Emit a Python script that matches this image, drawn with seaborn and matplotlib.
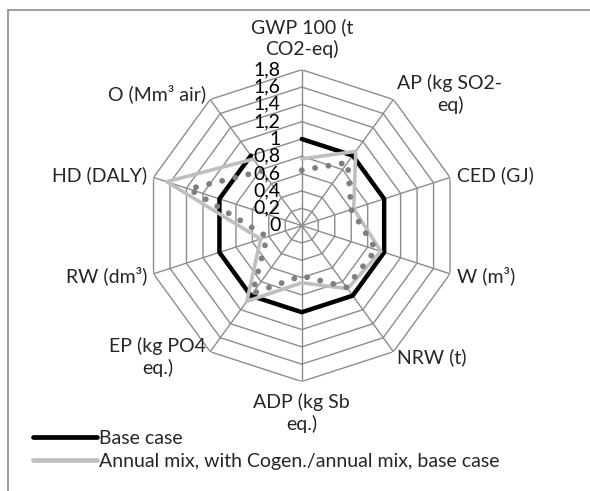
import numpy as np
import pandas as pd
import matplotlib
matplotlib.use("Agg")
import matplotlib.pyplot as plt
import matplotlib.transforms as mtransforms
from matplotlib.lines import Line2D
import seaborn as sns

# --- datos ---
CATEGORIES = ["GWP 100 (t\nCO2-eq)", "AP (kg SO2-\neq)", "CED (GJ)", "W (m³)", "NRW (t)",
              "ADP (kg Sb\neq.)", "EP (kg PO4\neq.)", "RW (dm³)", "HD (DALY)", "O (Mm³ air)"]
BASE_CASE = [1, 1, 1, 1, 1, 1, 1, 1, 1, 1]
ANNUAL_MIX = [0.77, 1.06, 0.63, 0.96, 0.90, 0.66, 1.08, 0.50, 1.64, 0.95]
COGEN_MIX = [0.64, 0.90, 0.60, 0.90, 0.88, 0.58, 0.97, 0.42, 1.37, 0.78]
R_TICKS = [0, 0.2, 0.4, 0.6, 0.8, 1.0, 1.2, 1.4, 1.6, 1.8]
R_LABELS = ["0", "0,2", "0,4", "0,6", "0,8", "1", "1,2", "1,4", "1,6", "1,8"]
SERIES_NAMES = ["Base case", "Annual mix, with Cogen./annual mix, base case",
                "Annual mix, with Cogen./annual mix, cogen"]

sns.set_theme(style="white")
plt.rcParams['font.family'] = ['Lato', 'DejaVu Sans']
FS = 14

n = len(CATEGORIES)
theta = np.linspace(0, 2 * np.pi, n, endpoint=False)
theta_c = np.append(theta, theta[0])

fig = plt.figure(figsize=(5.9, 4.91), dpi=100)
ax = fig.add_axes([0.247, 0.223, 0.529, 0.635], projection='polar')
ax.set_theta_offset(np.pi / 2)
ax.set_theta_direction(-1)
ax.set_ylim(0, 1.8)
ax.grid(False)
ax.spines['polar'].set_visible(False)
ax.set_xticks([])
ax.set_yticks([])
ax.patch.set_alpha(0)

# rejilla poligonal estilo Excel
grid_col = '#8c8c8c'
for r in R_TICKS[1:]:
    ax.plot(theta_c, [r] * (n + 1), color=grid_col, lw=1.0, zorder=1)
for t in theta:
    ax.plot([t, t], [0, 1.8], color=grid_col, lw=1.0, zorder=1)

# series
df = pd.DataFrame({
    'theta': np.tile(theta_c, 3),
    'value': BASE_CASE + BASE_CASE[:1] + ANNUAL_MIX + ANNUAL_MIX[:1] + COGEN_MIX + COGEN_MIX[:1],
    'serie': np.repeat(SERIES_NAMES, n + 1),
})
sub = df[df.serie == SERIES_NAMES[0]]
sns.lineplot(data=sub, x='theta', y='value', sort=False, ax=ax, color='black', lw=3.2,
             zorder=3, legend=False)
sub = df[df.serie == SERIES_NAMES[1]]
sns.lineplot(data=sub, x='theta', y='value', sort=False, ax=ax, color='#bfbfbf', lw=2.6,
             zorder=4, legend=False)
sub = df[df.serie == SERIES_NAMES[2]]
sns.lineplot(data=sub, x='theta', y='value', sort=False, ax=ax, color='#7f7f7f', lw=4.2,
             linestyle=(0, (0.01, 2.3)), dash_capstyle='round', zorder=5, legend=False)
ax.set_xlabel('')
ax.set_ylabel('')
ax.set_ylim(0, 1.8)

# etiquetas radiales
off = mtransforms.offset_copy(ax.transData, fig=fig, x=-21, y=0, units='dots')
for r, lab in zip(R_TICKS, R_LABELS):
    ax.text(0, r, lab, transform=off, ha='right', va='center', fontsize=FS, color='black', zorder=6)

# etiquetas de categor铆as
for t, lab in zip(theta, CATEGORIES):
    s, c = np.sin(t), np.cos(t)
    if abs(s) < 0.1:
        ha = 'center'
        va = 'bottom' if c > 0 else 'top'
        rr = 1.93
    else:
        ha = 'left' if s > 0 else 'right'
        va = 'center'
        rr = 1.88
    ax.text(t, rr, lab, ha=ha, va=va, fontsize=FS, multialignment='center', linespacing=1.25)

# leyenda (solo dos entradas visibles)
handles = [Line2D([], [], color='black', lw=3.4), Line2D([], [], color='#bfbfbf', lw=3.4)]
fig.legend(handles, SERIES_NAMES[:2], loc='upper left', bbox_to_anchor=(33 / 590, 1 - 430 / 491),
           frameon=False, fontsize=FS, handlelength=3.3, handletextpad=0.1, labelspacing=0.3,
           borderaxespad=0, borderpad=0)

# marco del gr谩fico (recortado)
fig.add_artist(Line2D([8 / 590, 8 / 590], [0, 1 - 10 / 491], transform=fig.transFigure,
                      color='#8c8c8c', lw=1.2))
fig.add_artist(Line2D([8 / 590, 1], [1 - 10 / 491, 1 - 10 / 491], transform=fig.transFigure,
                      color='#8c8c8c', lw=1.2))

fig.savefig('out.png', dpi=100)
